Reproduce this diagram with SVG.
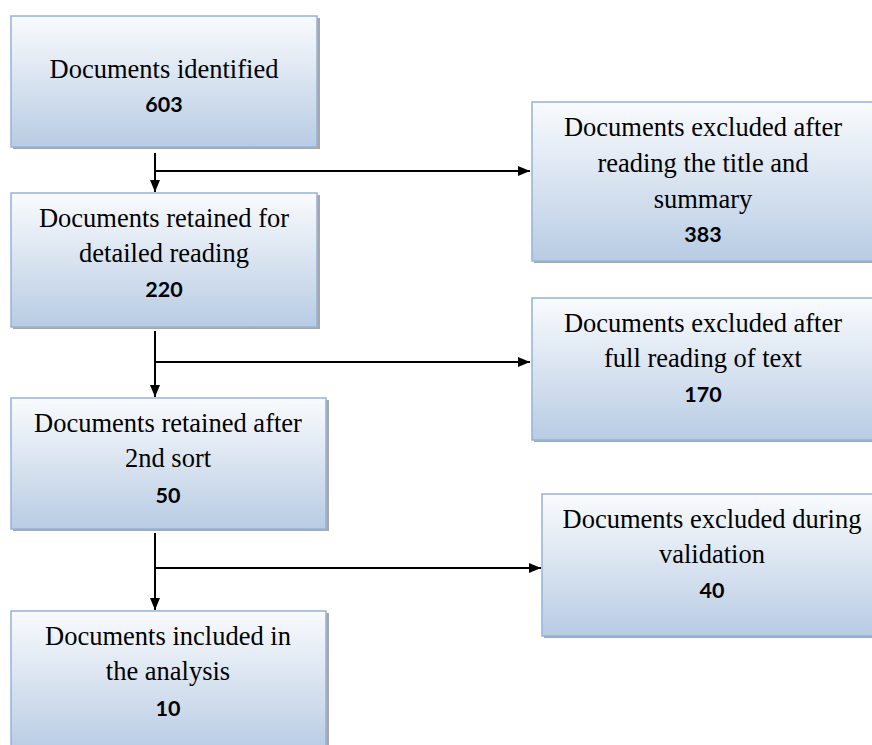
<svg xmlns="http://www.w3.org/2000/svg" width="872" height="745" viewBox="0 0 872 745">
<style>
.box{fill:url(#g);stroke:#95b3d7;stroke-width:1.5}
.sh{fill:#a8a8a8}
.c{stroke:#000;stroke-width:2;fill:none}
</style>
<defs>
<linearGradient id="g" x1="0" y1="0" x2="0" y2="1">
<stop offset="0" stop-color="#f9fbfd"/>
<stop offset="0.55" stop-color="#d6e1ef"/>
<stop offset="1" stop-color="#b8cce4"/>
</linearGradient>
<marker id="a" viewBox="0 0 12 10" refX="12" refY="5" markerWidth="12" markerHeight="10" markerUnits="userSpaceOnUse" orient="auto">
<path d="M0,0 L12,5 L0,10 Z" fill="#000"/>
</marker>
</defs>
<g id="connectors">
<path class="c" d="M155,153 V192" marker-end="url(#a)"/>
<path class="c" d="M155,171 H530" marker-end="url(#a)"/>
<path class="c" d="M155,331 V397" marker-end="url(#a)"/>
<path class="c" d="M155,362 H530" marker-end="url(#a)"/>
<path class="c" d="M155,533 V610" marker-end="url(#a)"/>
<path class="c" d="M155,568 H541" marker-end="url(#a)"/>
</g>
<g id="nodes">
<g id="n1">
<rect class="sh" x="13" y="18" width="307" height="131"/>
<rect class="box" x="11" y="16" width="306" height="131"/>
</g>
<g id="n2">
<rect class="sh" x="13" y="195" width="307" height="134"/>
<rect class="box" x="11" y="193" width="306" height="134"/>
</g>
<g id="n3">
<rect class="sh" x="13" y="400" width="316" height="131"/>
<rect class="box" x="11" y="398" width="315" height="131"/>
</g>
<g id="n4">
<rect class="sh" x="13" y="613" width="316" height="140"/>
<rect class="box" x="11" y="611" width="315" height="140"/>
</g>
<g id="n5">
<rect class="sh" x="534" y="104" width="345" height="159"/>
<rect class="box" x="532" y="102" width="345" height="159"/>
</g>
<g id="n6">
<rect class="sh" x="534" y="300" width="345" height="142"/>
<rect class="box" x="532" y="298" width="345" height="142"/>
</g>
<g id="n7">
<rect class="sh" x="544" y="496" width="345" height="142"/>
<rect class="box" x="542" y="494" width="345" height="142"/>
</g>
</g>
<g id="labels" font-family="Liberation Serif" font-size="26.5" fill="#000" text-anchor="middle">
<text x="164" y="78">Documents identified</text>
<text x="164" y="227">Documents retained for</text>
<text x="164" y="262">detailed reading</text>
<text x="168" y="432">Documents retained after</text>
<text x="168" y="467">2nd sort</text>
<text x="168" y="645">Documents included in</text>
<text x="168" y="680">the analysis</text>
<text x="703" y="136">Documents excluded after</text>
<text x="703" y="172">reading the title and</text>
<text x="703" y="208">summary</text>
<text x="703" y="332">Documents excluded after</text>
<text x="703" y="367">full reading of text</text>
<text x="712" y="528">Documents excluded during</text>
<text x="712" y="563">validation</text>
</g>
<g id="counts" font-family="Lato" font-weight="bold" font-size="21.5" fill="#000" text-anchor="middle">
<text x="164" y="112">603</text>
<text x="164" y="297">220</text>
<text x="168" y="503">50</text>
<text x="168" y="716">10</text>
<text x="703" y="242">383</text>
<text x="703" y="402">170</text>
<text x="712" y="598">40</text>
</g>
</svg>
